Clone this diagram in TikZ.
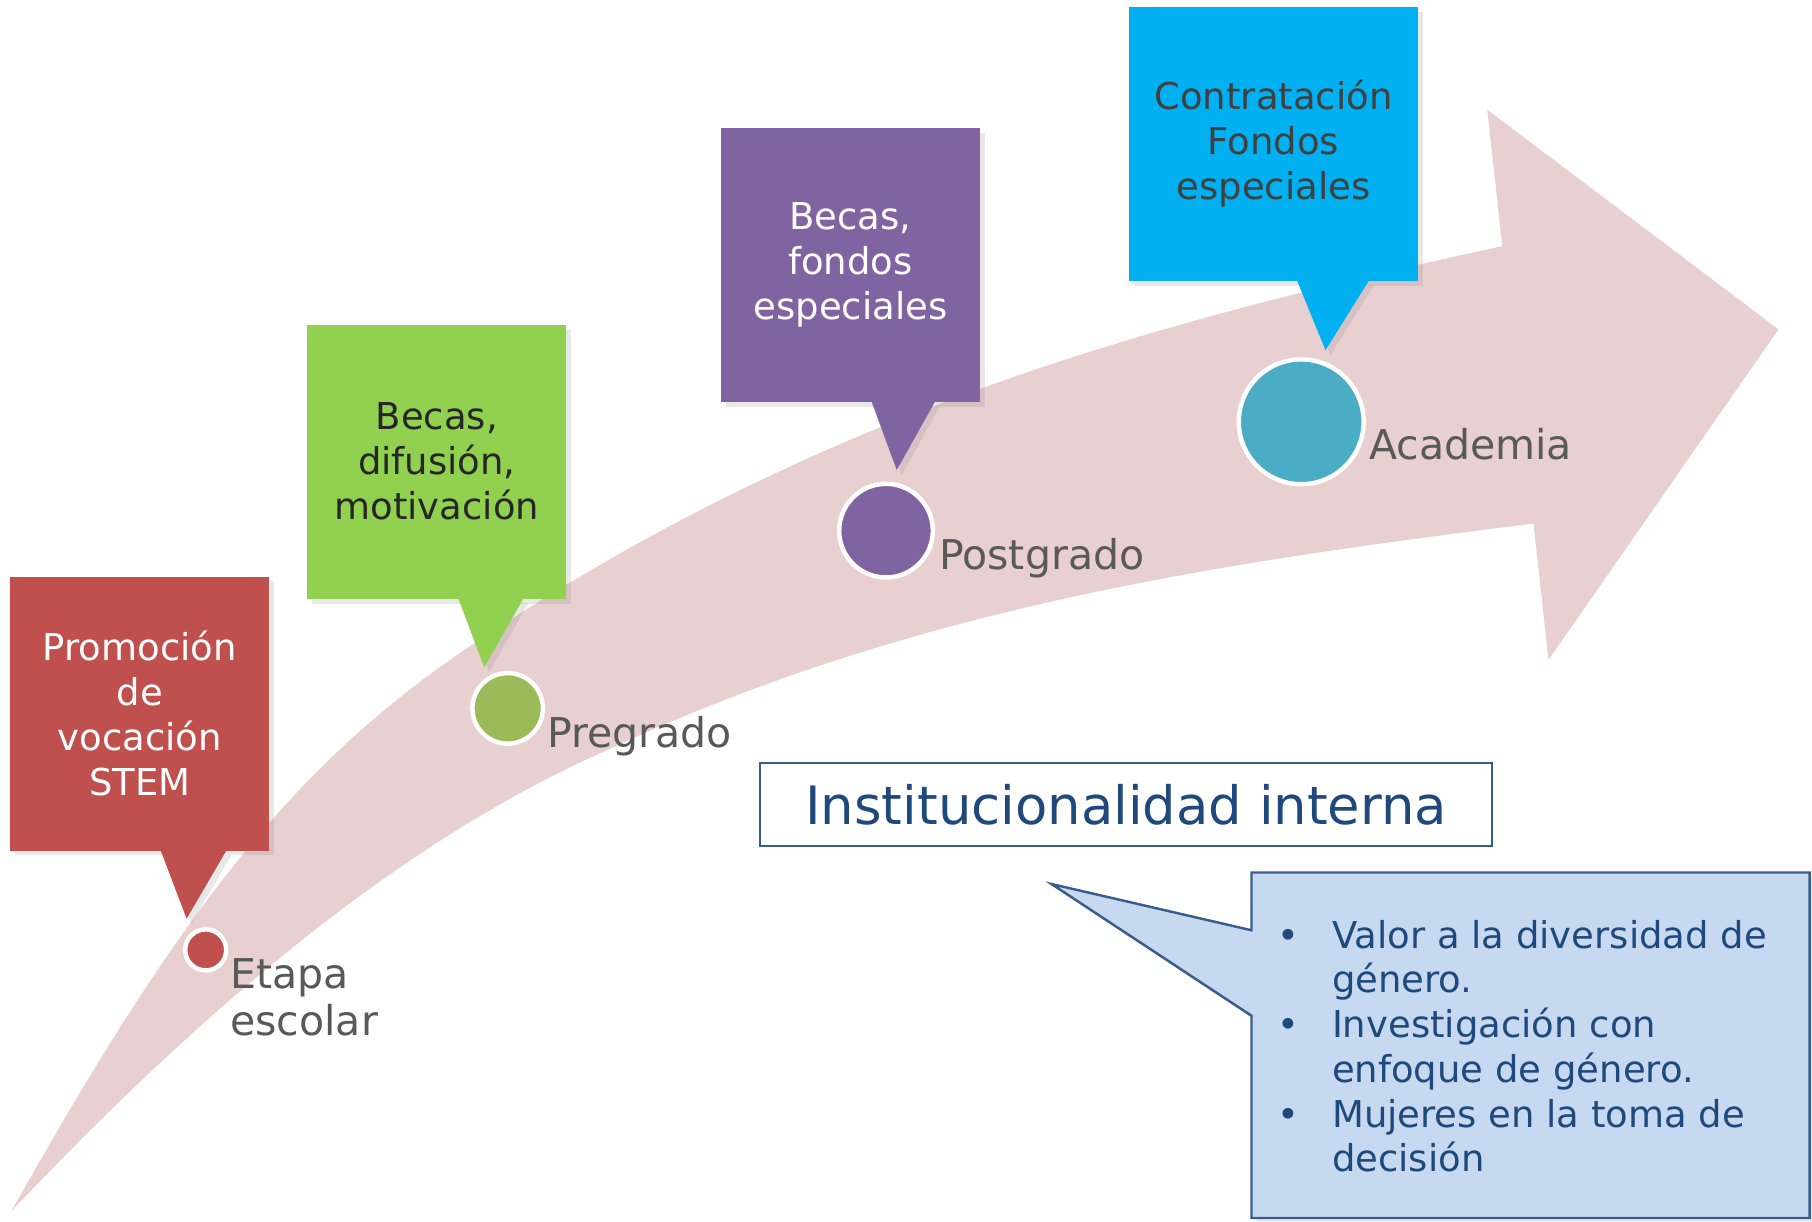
\documentclass[tikz,border=0pt]{standalone}
\usepackage{fontspec}
\setmainfont{DejaVu Sans}
\usetikzlibrary{calc,shadows}

\definecolor{band}{HTML}{E8D0D1}
\definecolor{redc}{HTML}{C0504D}
\definecolor{greenc}{HTML}{92D050}
\definecolor{greendot}{HTML}{9BBB59}
\definecolor{purplec}{HTML}{8064A2}
\definecolor{cyanc}{HTML}{00B0F0}
\definecolor{tealdot}{HTML}{4BACC6}
\definecolor{labelgray}{HTML}{595959}
\definecolor{navy}{HTML}{1F497D}
\definecolor{navyline}{HTML}{385D8A}
\definecolor{paleblue}{HTML}{C6D9F1}

\newcommand{\bulitem}{\makebox[0.47cm][l]{•}}
\newcommand{\bulindent}{\hspace*{0.47cm}}

\tikzset{
  flatshadow/.style={drop shadow={shadow xshift=1.2pt,shadow yshift=-1.2pt,opacity=0.18}},
  stagebox/.style={rectangle,minimum width=2.24cm,minimum height=2.37cm,inner sep=0pt,
    align=center,font=\fontsize{9.1}{11.1}\selectfont,flatshadow},
  beak/.style={flatshadow},
  dot/.style={circle,draw=white,line width=1.1pt,inner sep=0pt},
  stagelabel/.style={text=labelgray,font=\fontsize{10.1}{11.5}\selectfont,inner sep=0pt,align=left}
}

\begin{document}
\begin{tikzpicture}[x=0.01cm,y=-0.01cm]
\useasboundingbox (0,0) rectangle (1568,1057);

% curved arrow
\fill[band] (10,1048) .. controls (160,780) and (260,657) .. (410,557)
  .. controls (710,356) and (1000,278) .. (1300,213)
  -- (1287,95) -- (1539,285) -- (1340,571) -- (1327,453)
  .. controls (1057,487) and (789,525) .. (519,652)
  .. controls (349,728) and (180,868) .. (10,1048) -- cycle;

% stage boxes
\node[stagebox,fill=redc,text=white] (stem) at (121,617.5) {Promoción\\de\\vocación\\STEM};
\node[stagebox,fill=greenc,text=black!85] (becas) at (378,399.5) {Becas,\\difusión,\\motivación};
\node[stagebox,fill=purplec,text=white] (fondos) at (736,229.5) {Becas,\\fondos\\especiales};
\node[stagebox,fill=cyanc,text=black!75,minimum width=2.5cm] (contrato) at (1102,124.5) {Contratación\\Fondos\\especiales};

\fill[redc,beak] ($(stem.south)+(18,-1)$) -- (161.5,795) -- ($(stem.south)+(75,-1)$) -- cycle;
\fill[greenc,beak] ($(becas.south)+(18.6,-1)$) -- (419,577.5) -- ($(becas.south)+(75,-1)$) -- cycle;
\fill[purplec,beak] ($(fondos.south)+(18.3,-1)$) -- (776,406.7) -- ($(fondos.south)+(73,-1)$) -- cycle;
\fill[cyanc,beak] ($(contrato.south)+(20.4,-1)$) -- (1147,303) -- ($(contrato.south)+(82.6,-1)$) -- cycle;

% stage dots
\node[dot,fill=redc,minimum size=0.355cm] (escolar) at (178,822) {};
\node[dot,fill=greendot,minimum size=0.61cm] (pregrado) at (439.3,613) {};
\node[dot,fill=purplec,minimum size=0.81cm] (postgrado) at (766.7,459.2) {};
\node[dot,fill=tealdot,minimum size=1.08cm] (academia) at (1126,365) {};

\node[stagelabel,anchor=base west] (escolarlbl) at (198.5,895.7) {Etapa\\escolar};
\node[stagelabel,anchor=base west] (pregradolbl) at (473,646.7) {Pregrado};
\node[stagelabel,anchor=base west] (postgradolbl) at (812,492.4) {Postgrado};
\node[stagelabel,anchor=base west] (academialbl) at (1184,397.2) {Academia};

% institucionalidad
\node[draw=navyline,line width=0.5pt,minimum width=6.33cm,minimum height=0.72cm,
  text=navy,font=\fontsize{13}{15}\selectfont] (inst) at (974.5,696) {Institucionalidad interna};

\filldraw[fill=paleblue,draw=navyline,line width=0.6pt,flatshadow]
  (1083,755) -- (1566,755) -- (1566,1054) -- (1083,1054) -- (1083,879) -- (910,765) -- (1083,805) -- cycle;
\node[anchor=base west,align=left,text=navy,font=\fontsize{9.1}{11}\selectfont,inner sep=0pt] (genero) at (1105,1014)
  {\bulitem Valor a la diversidad de\\ \bulindent género.\\ \bulitem Investigación con\\
   \bulindent enfoque de género.\\ \bulitem Mujeres en la toma de\\ \bulindent decisión};

\end{tikzpicture}
\end{document}
